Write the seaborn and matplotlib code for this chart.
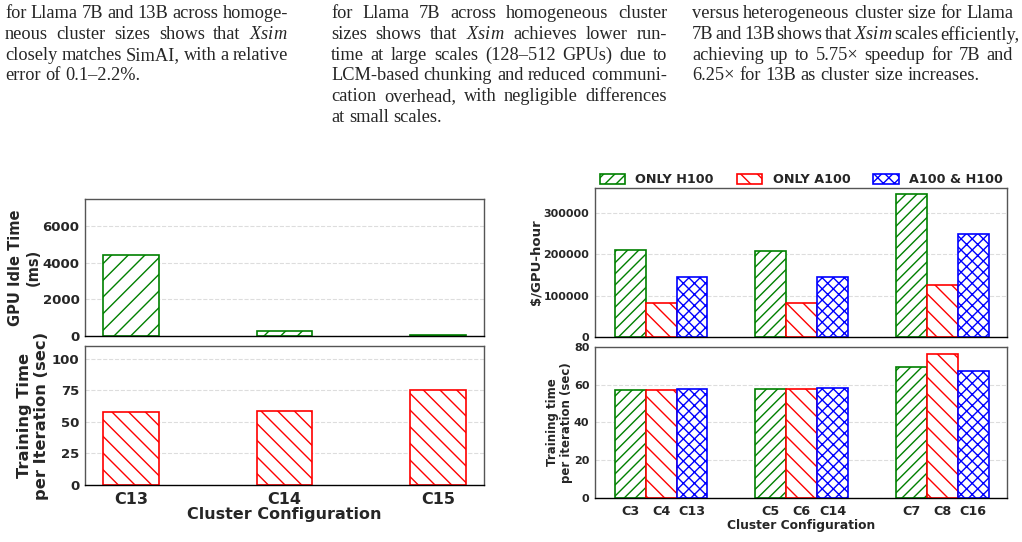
import pandas as pd
import matplotlib.pyplot as plt
import seaborn as sns

# homogeneous clusters (left figure)
homo_configs = ['C13', 'C14', 'C15']
idle_ms = [4420, 300, 70]
homo_train_sec = [57.6, 58.3, 75.4]

# heterogeneous clusters (right figure)
groups = ['G1', 'G2', 'G3']
gpu_types = ['ONLY H100', 'ONLY A100', 'A100 & H100']
cost_h100 = [210000, 208000, 346000]
cost_a100 = [83000, 82000, 126000]
cost_mixed = [145000, 145000, 250000]
time_h100 = [57.0, 57.6, 69.4]
time_a100 = [57.4, 57.7, 76.3]
time_mixed = [57.6, 58.1, 67.3]
cfg_h100 = ['C3', 'C5', 'C7']
cfg_a100 = ['C4', 'C6', 'C8']
cfg_mixed = ['C13', 'C14', 'C16']

# caption text fragments above the figures
col1 = ['for Llama 7B and 13B across homoge-',
        r'neous cluster sizes shows that $\mathit{Xsim}$',
        'closely matches SimAI, with a relative',
        'error of 0.1\u20132.2%.']
col2 = ['for Llama 7B across homogeneous cluster',
        r'sizes shows that $\mathit{Xsim}$ achieves lower run-',
        'time at large scales (128\u2013512 GPUs) due to',
        'LCM-based chunking and reduced communi-',
        'cation overhead, with negligible differences',
        'at small scales.']
col3 = ['versus heterogeneous cluster size for Llama',
        r'7B and 13B shows that $\mathit{Xsim}$ scales efficiently,',
        'achieving up to 5.75\u00d7 speedup for 7B and',
        '6.25\u00d7 for 13B as cluster size increases.']

colors = {'ONLY H100': 'green', 'ONLY A100': 'red', 'A100 & H100': 'blue'}
hatches = {'ONLY H100': '///', 'ONLY A100': '\\\\', 'A100 & H100': 'xxx'}

sns.set_style('white')
plt.rcParams['font.family'] = ['DejaVu Sans']
plt.rcParams['axes.labelweight'] = 'bold'
plt.rcParams['mathtext.fontset'] = 'custom'
plt.rcParams['mathtext.it'] = 'Liberation Serif:italic'
plt.rcParams['mathtext.rm'] = 'Liberation Serif'
plt.rcParams['hatch.linewidth'] = 1.0

fig = plt.figure(figsize=(10.22, 5.42), dpi=100)
renderer = fig.canvas.get_renderer()
W, H = 1022, 542
FS = 13.2


def caption_line(x0, x1, y, line, justify):
    # place words one by one so the line fills the column like the paper does
    words = line.split(' ')
    texts = [fig.text(0, 1 - y / H, w, family='Liberation Serif', fontsize=FS,
                      va='center', ha='left') for w in words]
    widths = [t.get_window_extent(renderer).width for t in texts]
    gap = 0.25 * FS * 100 / 72
    if justify and len(words) > 1:
        gap = max(2.0, ((x1 - x0) - sum(widths)) / (len(words) - 1))
    x = x0
    for t, w in zip(texts, widths):
        t.set_x(x / W)
        x += w + gap


for (x0, x1), lines in [((5, 288), col1), ((331, 667), col2), ((692, 1013), col3)]:
    for i, line in enumerate(lines):
        caption_line(x0, x1, 14 + 20.6 * i, line, i < len(lines) - 1)


def style_ax(ax):
    ax.set_axisbelow(True)
    ax.yaxis.grid(True, linestyle='--', color='#dddddd', linewidth=0.8)
    for s in ax.spines.values():
        s.set_color('#555555')
        s.set_linewidth(1.0)
    ax.spines['bottom'].set_color('black')
    ax.tick_params(axis='both', length=3, width=0.8, color='#555555')
    ax.tick_params(axis='y', length=2, pad=2)
    for t in ax.get_xticklabels() + ax.get_yticklabels():
        t.set_fontweight('bold')


# --- left figure
ax1 = fig.add_axes([0.0832, 0.3801, 0.3904, 0.2528])
ax2 = fig.add_axes([0.0832, 0.1052, 0.3904, 0.2565])

homo = pd.DataFrame({'config': homo_configs, 'idle': idle_ms, 'train': homo_train_sec})
sns.barplot(data=homo, x='config', y='idle', width=0.36, errorbar=None, ax=ax1)
sns.barplot(data=homo, x='config', y='train', width=0.36, errorbar=None, ax=ax2)
for ax, col, h in [(ax1, 'green', '//'), (ax2, 'red', '\\\\')]:
    for p in ax.patches:
        p.set_facecolor('white')
        p.set_edgecolor(col)
        p.set_hatch(h)
        p.set_linewidth(1.2)
    ax.set_xlim(-0.3, 2.3)

ax1.set_ylim(0, 7500)
ax1.set_yticks([0, 2000, 4000, 6000])
ax1.set_xticklabels([])
ax1.set_xlabel('')
ax1.set_ylabel('GPU Idle Time\n(ms)', fontsize=10.5, labelpad=1, linespacing=1.25)
ax1.tick_params(axis='y', labelsize=9.5)

ax2.set_ylim(0, 110)
ax2.set_yticks([0, 25, 50, 75, 100])
ax2.set_xlabel('Cluster Configuration', fontsize=11.5, labelpad=0)
ax2.set_ylabel('Training Time\nper Iteration (sec)', fontsize=11.7, labelpad=2, linespacing=1.15)
ax2.tick_params(axis='y', labelsize=9.5)
ax2.tick_params(axis='x', labelsize=11.5, pad=2)
style_ax(ax1)
style_ax(ax2)

# --- right figure
hetero = pd.DataFrame({
    'group': groups * 3,
    'gpu': [g for g in gpu_types for _ in groups],
    'cost': cost_h100 + cost_a100 + cost_mixed,
    'time': time_h100 + time_a100 + time_mixed,
    'config': cfg_h100 + cfg_a100 + cfg_mixed,
})

ax3 = fig.add_axes([0.5822, 0.3782, 0.4031, 0.2749])
ax4 = fig.add_axes([0.5822, 0.0812, 0.4031, 0.2786])
sns.barplot(data=hetero, x='group', y='cost', hue='gpu', hue_order=gpu_types,
            width=0.66, errorbar=None, ax=ax3)
sns.barplot(data=hetero, x='group', y='time', hue='gpu', hue_order=gpu_types,
            width=0.66, errorbar=None, ax=ax4)

for ax in (ax3, ax4):
    ticks, labels = [], []
    for gpu, cont in zip(gpu_types, ax.containers):
        cfgs = hetero[hetero['gpu'] == gpu]['config'].tolist()
        for bar, cfg in zip(cont, cfgs):
            bar.set_facecolor('white')
            bar.set_edgecolor(colors[gpu])
            bar.set_hatch(hatches[gpu])
            bar.set_linewidth(1.2)
            ticks.append(bar.get_x() + bar.get_width() / 2)
            labels.append(cfg)
    ax.set_xticks(ticks)
    ax.set_xticklabels(labels)
    ax.set_xlim(-0.47, 2.46)
    ax.get_legend().remove()

handles = [ax3.containers[i][0] for i in range(3)]
fig.legend(handles, gpu_types, loc='center', bbox_to_anchor=(0.784, 0.668), ncol=3,
           frameon=False, prop={'weight': 'bold', 'size': 9.2}, handlelength=2.0,
           handleheight=0.9, handletextpad=0.8, columnspacing=1.8, borderaxespad=0)

ax3.set_ylim(0, 360000)
ax3.set_yticks([0, 100000, 200000, 300000])
ax3.set_xticklabels([])
ax3.set_xlabel('')
ax3.set_ylabel('$/GPU-hour', fontsize=9.5, labelpad=1)
ax3.tick_params(axis='y', labelsize=7.9)

ax4.set_ylim(0, 80)
ax4.set_yticks([0, 20, 40, 60, 80])
ax4.set_xlabel('Cluster Configuration', fontsize=8.8, labelpad=1)
ax4.set_ylabel('Training time\nper iteration (sec)', fontsize=8.5, labelpad=1, linespacing=1.1)
ax4.tick_params(axis='y', labelsize=8)
ax4.tick_params(axis='x', labelsize=9.2, pad=2)
style_ax(ax3)
style_ax(ax4)

fig.savefig('out.png', dpi=100)
